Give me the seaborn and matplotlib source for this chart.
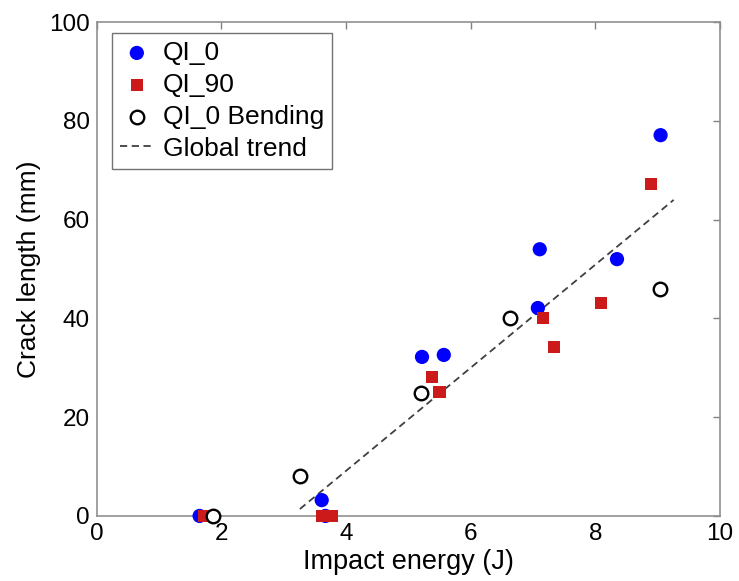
import matplotlib
matplotlib.use("Agg")
import matplotlib.pyplot as plt
import seaborn as sns
import pandas as pd

sns.set_theme(style="white")
plt.rcParams['font.family'] = ['Liberation Sans', 'DejaVu Sans']
plt.rcParams['text.color'] = 'black'
plt.rcParams['axes.labelcolor'] = 'black'

qi0_x = [1.65, 3.67, 3.61, 5.22, 5.57, 7.08, 7.11, 8.35, 9.05]
qi0_y = [0.0, 0.0, 3.2, 32.2, 32.6, 42.1, 54.0, 52.0, 77.1]

qi90_x = [1.73, 3.61, 3.77, 5.38, 5.50, 7.16, 7.34, 8.09, 8.89]
qi90_y = [0.0, 0.0, 0.0, 28.1, 25.1, 40.1, 34.2, 43.1, 67.2]

bend_x = [1.86, 3.26, 5.20, 6.63, 9.04]
bend_y = [0.0, 8.1, 24.9, 40.1, 46.0]

trend_x = [3.26, 9.26]
trend_y = [1.4, 64.0]

xticks = [0, 2, 4, 6, 8, 10]
yticks = [0, 20, 40, 60, 80, 100]

fig = plt.figure(figsize=(7.39, 5.81), dpi=100)
ax = fig.add_axes([0.131, 0.112, 0.843, 0.850])

sns.scatterplot(x=qi0_x, y=qi0_y, ax=ax, color="#0000FF", marker="o", s=105,
                edgecolor="none", label="QI_0", clip_on=False, zorder=3)
sns.scatterplot(x=qi90_x, y=qi90_y, ax=ax, color="#CC1A1A", marker="s", s=78,
                edgecolor="none", label="QI_90", clip_on=False, zorder=4)
sns.scatterplot(x=bend_x, y=bend_y, ax=ax, marker="o", s=95, facecolor="white",
                edgecolor="black", linewidth=1.7, label="QI_0 Bending", clip_on=False, zorder=5)
sns.lineplot(x=trend_x, y=trend_y, ax=ax, color="#404040", linestyle=(0, (4, 2.5)), linewidth=1.3,
             label="Global trend", zorder=2)

ax.set_xlim(0, 10)
ax.set_ylim(0, 100)
ax.set_xticks(xticks)
ax.set_yticks(yticks)
ax.set_xticklabels([str(t) for t in xticks])
ax.set_yticklabels([str(t) for t in yticks])
ax.tick_params(axis='both', which='both', direction='in', length=5, width=1,
               color='#808080', labelsize=17.5, labelcolor='black',
               top=True, right=True, pad=5)
for sp in ax.spines.values():
    sp.set_color('#909090')
    sp.set_linewidth(1.2)

ax.set_xlabel("Impact energy (J)", fontsize=19.5, labelpad=3, color='black')
ax.set_ylabel("Crack length (mm)", fontsize=19, labelpad=6, color='black')

leg = ax.legend(loc="upper left", bbox_to_anchor=(0.024, 0.978), fontsize=19,
                frameon=True, fancybox=False, edgecolor="#505050", handlelength=1.3,
                handletextpad=0.35, borderpad=0.3, labelspacing=0.3, borderaxespad=0)
leg.get_frame().set_linewidth(1.0)
for t in leg.get_texts():
    t.set_color('black')

fig.savefig("out.png", dpi=100)
